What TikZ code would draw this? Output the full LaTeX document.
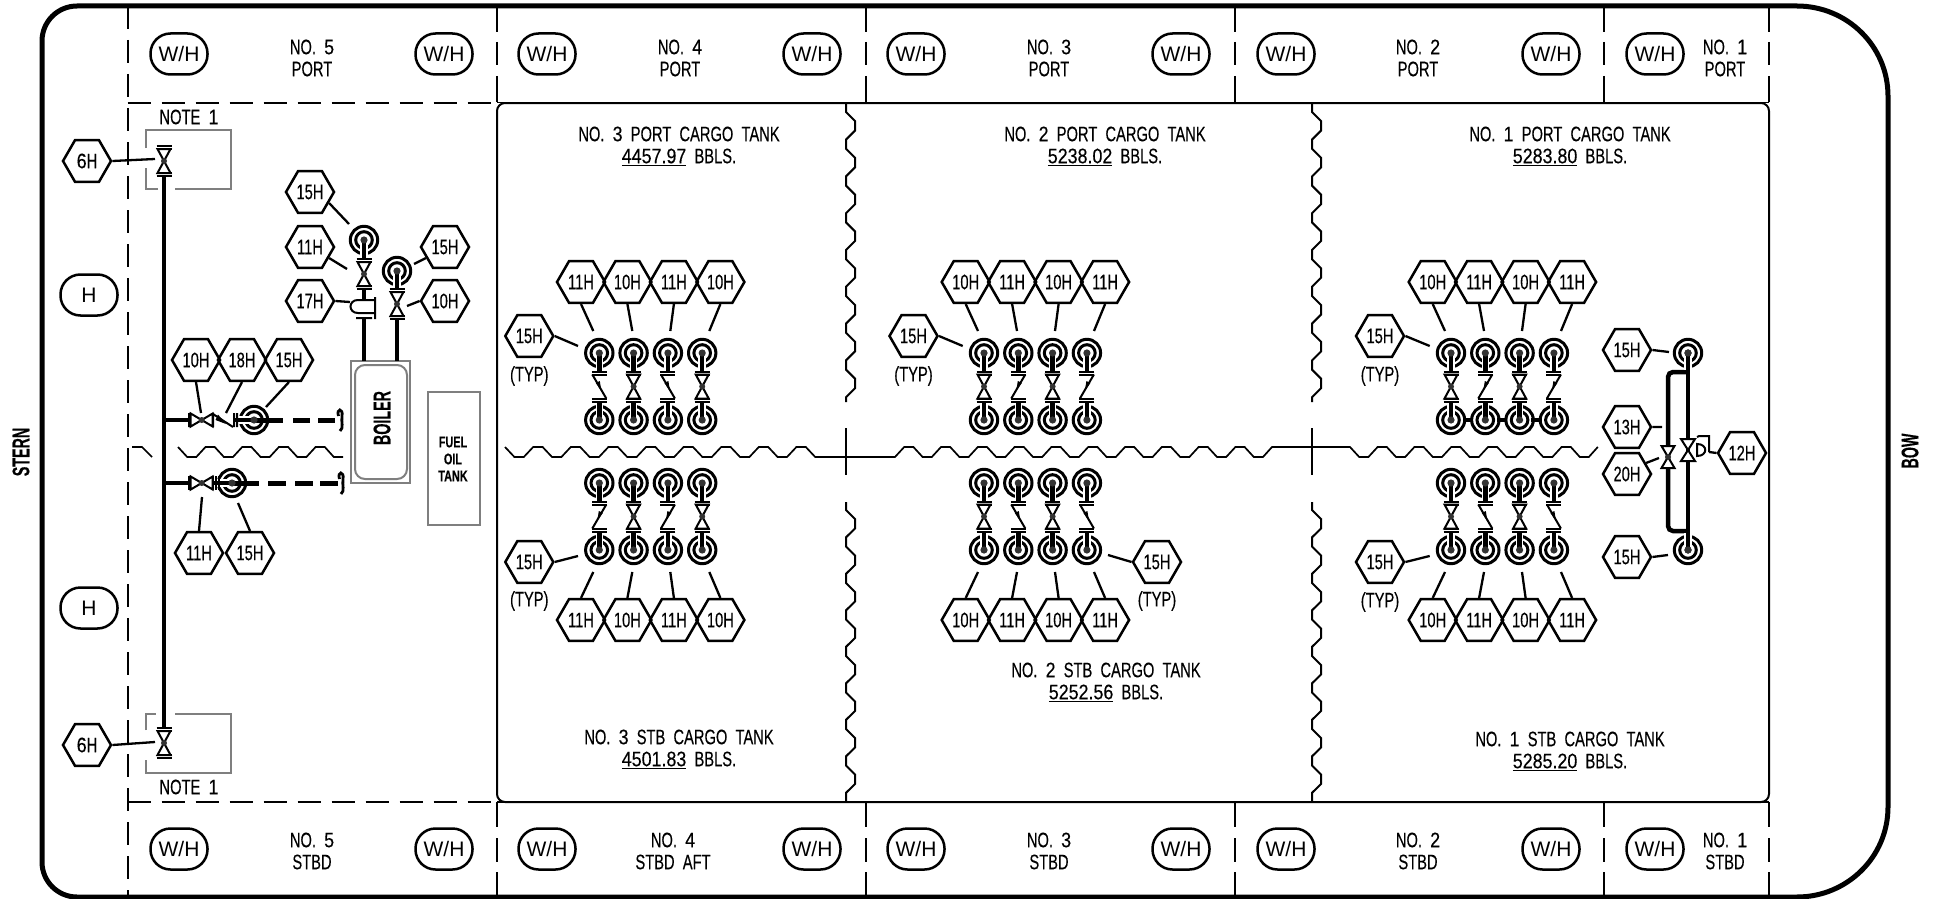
\documentclass[tikz,border=0pt]{standalone}
\usepackage{fontspec}
\usepackage{graphicx}
\usetikzlibrary{shapes.geometric}
\setmainfont{Liberation Sans}[FakeStretch=0.7,WordSpace=2,FakeBold=0.25]
\newfontfamily\widefont{Liberation Sans}[FakeStretch=1.0]
\newfontfamily\numfont{Liberation Sans}[FakeStretch=0.85,FakeBold=0.25]
\newcommand{\nf}[1]{{\numfont #1}}
\newcommand{\hd}[1]{\scalebox{0.85}[1]{\bfseries\fontsize{24}{24}\selectfont #1}}
\definecolor{boxgray}{HTML}{7F7F7F}
\definecolor{dotgray}{HTML}{333333}
\tikzset{
  txt/.style={inner sep=0pt,align=center,font=\fontsize{21}{22}\selectfont},
  hx/.style={draw,line width=2.5pt,regular polygon,regular polygon sides=6,minimum size=48pt,inner sep=0pt,font=\fontsize{21}{22}\selectfont},
  wh/.style={draw,line width=2.5pt,rounded corners=20pt,minimum width=57pt,minimum height=41pt,inner sep=0pt,font=\widefont\fontsize{21}{22}\selectfont},
  border/.style={line width=5pt},
  dsh/.style={line width=2pt},
  thinln/.style={line width=1.7pt},
  leader/.style={line width=2.3pt},
  pipe/.style={line width=4.5pt},
  grayln/.style={line width=2pt,draw=boxgray},
  ring/.style={line width=3pt},
  dotf/.style={fill=dotgray},
  sym/.style={line width=2pt},
  target/.pic={
    \draw[ring] (0,0) circle (13.7);
    \draw[ring] (0,0) circle (8.3);
    \draw[white,line width=7.5pt] (0,0)--(0,17);
    \draw[pipe] (0,0)--(0,19);
    \fill[dotf] (0,0) circle (3.6);
  },
  gateb/.pic={
    \draw[sym,fill=white] (-6.5,-11)--(6.5,-11)--(-6.5,11)--(6.5,11)--cycle;
    \fill[dotf] (0,0) circle (3);
  },
  flgate/.pic={
    \draw[sym,fill=white] (-6.5,-12)--(6.5,-12)--(-6.5,12)--(6.5,12)--cycle;
    \draw[sym] (-7.5,-15)--(7.5,-15) (-7.5,15)--(7.5,15) (-7.5,-12)--(7.5,-12) (-7.5,12)--(7.5,12);
    \fill[dotf] (0,0) circle (3);
  },
  chk/.pic={
    \draw[sym] (-7.5,-15)--(7.5,-15) (-7.5,15)--(7.5,15) (-7.5,-12)--(7.5,-12) (-7.5,12)--(7.5,12);
    \draw[sym] (-7,-12)--(7,12);
    \fill (2,4)--(-3.5,-3.5)--(0.5,-5.5)--cycle;
  }
}
\newcommand{\symG}[2]{\pic at (#1,#2) {flgate};}
\newcommand{\symD}[2]{\pic at (#1,#2) {chk};}
\newcommand{\symU}[2]{\pic[xscale=-1] at (#1,#2) {chk};}
\newcommand{\lead}[3]{\coordinate (#1-e) at (#3); \draw[leader] (#2) -- (#1-e);}
% name, x0, top labels, bottom labels, upper symbols, lower symbols
\newcommand{\cargogroup}[6]{
  \foreach \lab [count=\i] in {#3}{
    \pgfmathsetmacro\hexd{{-18.3,28.1,74.6,121.1}[\i-1]}
    \pgfmathsetmacro\td{{-6,33,71,110}[\i-1]}
    \node[hx] (#1t\i) at (#2+\hexd,282) {\lab};
    \coordinate (#1te\i) at (#2+\td,331);
    \draw[leader] (#1t\i.south) -- (#1te\i);
  }
  \foreach \lab [count=\i] in {#4}{
    \pgfmathsetmacro\hexd{{-18.3,28.1,74.6,121.1}[\i-1]}
    \pgfmathsetmacro\td{{-6,33,71,110}[\i-1]}
    \node[hx] (#1b\i) at (#2+\hexd,620) {\lab};
    \coordinate (#1be\i) at (#2+\td,572);
    \draw[leader] (#1b\i.north) -- (#1be\i);
  }
  \foreach \sy [count=\i] in {#5}{
    \pgfmathsetmacro\tx{#2+34.3*(\i-1)}
    \pic at (\tx,353) {target};
    \pic[rotate=180] at (\tx,420) {target};
    \sy{\tx}{386.5}
  }
  \foreach \sy [count=\i] in {#6}{
    \pgfmathsetmacro\tx{#2+34.3*(\i-1)}
    \pic at (\tx,483) {target};
    \pic[rotate=180] at (\tx,550) {target};
    \sy{\tx}{516.5}
  }
}
\newcommand{\typlabel}[5]{
  \node[hx] (#1) at (#2,#3) {15H};
  \node[txt] (#1typ) at (#2,#3+#4) {(TYP)};
  \coordinate (#1e) at (#5);
}
\newcommand{\vwave}[1]{
  \draw[dsh] (#1,103)--(#1,112)
    \foreach \k in {1,...,7}{ -- ++(9.2,9.2) -- ++(0,9.2) -- ++(-9.2,9.2) -- ++(0,9.2)}
    -- ++(9.2,9.2) -- ++(0,9.2) -- ++(-9.2,9.2) -- (#1,402);
  \draw[dsh] (#1,428)--(#1,475);
  \draw[dsh] (#1,502)--(#1,510)
    \foreach \k in {1,...,8}{ -- ++(9.2,9.125) -- ++(0,9.125) -- ++(-9.2,9.125) -- ++(0,9.125)};
}
\newcommand{\hook}[2]{
  \draw[line width=2.8pt] (#1-1.5,#2-4) .. controls (#1-4,#2-12) and (#1+3.5,#2-12) .. (#1+2,#2-4) .. controls (#1+1,#2+2) and (#1+4,#2+8) .. (#1,#2+11);
}
\begin{document}
\begin{tikzpicture}[x=1pt,y=-1pt]
\useasboundingbox (0,0) rectangle (1944,899);
\fill[white] (0,0) rectangle (1944,899);

% hull
\draw[border,rounded corners=35pt] (1797,6) -- (42,6) -- (42,897) -- (1797,897);
\draw[border] (1797,6) .. controls (1847,6) and (1888,46) .. (1888,96) -- (1888,807) .. controls (1888,857) and (1847,897) .. (1797,897);

% band and section lines
\draw[dsh,dash pattern=on 23pt off 11pt] (127.5,6) -- (127.5,897);
\draw[dsh,dash pattern=on 23pt off 11pt] (127.5,102.5) -- (497,102.5);
\draw[dsh,dash pattern=on 23pt off 11pt] (127.5,802) -- (497,802);
\draw[thinln] (497,102.5) -- (1769,102.5) (497,802) -- (1769,802);
\foreach \xx in {497,866,1235,1604,1769}{
  \draw[dsh,dash pattern=on 26pt off 10pt on 23pt off 11pt on 26pt] (\xx,6) -- (\xx,102);
  \draw[dsh,dash pattern=on 25pt off 11pt on 24pt off 10pt on 25pt] (\xx,802) -- (\xx,897);
}
\draw[dsh,rounded corners=8pt] (497,103) rectangle (1769,802);

% wavy divisions
\vwave{846}
\vwave{1312}
\draw[thinln] (505,447)
  \foreach \k in {1,...,8}{ -- ++(9.4,10) -- ++(9.4,0) -- ++(9.4,-10) -- ++(9.4,0)}
  -- ++(9.4,10) -- (895,457)
  \foreach \k in {1,...,10}{ -- ++(9.2,-10) -- ++(9.2,0) -- ++(9.2,10) -- ++(9.2,0)}
  -- ++(9,-10) -- (1350,447)
  \foreach \k in {1,...,6}{ -- ++(9.2,10) -- ++(9.2,0) -- ++(9.2,-10) -- ++(9.2,0)}
  -- ++(9,10) -- ++(9,0) -- ++(9,-10);
\draw[thinln] (132,447) -- (142,447) -- (152,457);
\draw[thinln] (178,447)
  \foreach \k in {1,...,4}{ -- ++(9.2,10) -- ++(9.1,0) -- ++(9.2,-10) -- ++(9.2,0)}
  -- ++(9,10) -- (343,457);

% band labels
\foreach \xx [count=\i] in {179,444,547,812,916,1181,1286,1551,1655}{
  \node[wh] (wht\i) at (\xx,54) {W/H};
  \node[wh] (whb\i) at (\xx,849) {W/H};
}
\node[txt] (pt5) at (312,58) {NO. \nf{5}\\PORT};
\node[txt] (pt4) at (680,58) {NO. \nf{4}\\PORT};
\node[txt] (pt3) at (1049,58) {NO. \nf{3}\\PORT};
\node[txt] (pt2) at (1418,58) {NO. \nf{2}\\PORT};
\node[txt] (pt1) at (1725,58) {NO. \nf{1}\\PORT};
\node[txt] (sb5) at (312,851) {NO. \nf{5}\\STBD};
\node[txt] (sb4) at (673,851) {NO. \nf{4}\\STBD AFT};
\node[txt] (sb3) at (1049,851) {NO. \nf{3}\\STBD};
\node[txt] (sb2) at (1418,851) {NO. \nf{2}\\STBD};
\node[txt] (sb1) at (1725,851) {NO. \nf{1}\\STBD};

% tank labels
\node[txt] (tp3) at (679,146) {NO. \nf{3} PORT CARGO TANK\\\underline{\nf{4457.97}} BBLS.};
\node[txt] (tp2) at (1105,146) {NO. \nf{2} PORT CARGO TANK\\\underline{\nf{5238.02}} BBLS.};
\node[txt] (tp1) at (1570,146) {NO. \nf{1} PORT CARGO TANK\\\underline{\nf{5283.80}} BBLS.};
\node[txt] (ts3) at (679,749) {NO. \nf{3} STB CARGO TANK\\\underline{\nf{4501.83}} BBLS.};
\node[txt] (ts2) at (1106,682) {NO. \nf{2} STB CARGO TANK\\\underline{\nf{5252.56}} BBLS.};
\node[txt] (ts1) at (1570,751) {NO. \nf{1} STB CARGO TANK\\\underline{\nf{5285.20}} BBLS.};

\node[txt,rotate=90] (stern) at (21,452) {\hd{STERN}};
\node[txt,rotate=90] (bow) at (1910,451) {\hd{BOW}};

% note boxes
\draw[grayln] (146,148) -- (146,130) -- (231,130) -- (231,189) -- (175,189) (158,189) -- (146,189) -- (146,168);
\draw[grayln] (146,730) -- (146,714) -- (156,714) (175,714) -- (231,714) -- (231,773) -- (146,773) -- (146,760);
\node[txt] (n1) at (189,117) {NOTE \nf{1}};
\node[txt] (n2) at (189,787) {NOTE \nf{1}};

% H ovals
\node[wh] (ho1) at (89,295) {H};
\node[wh] (ho2) at (89,608) {H};

% boiler and tank
\node[grayln,draw,minimum width=59pt,minimum height=122pt,inner sep=0pt] (boilerO) at (380.5,422) {};
\node[grayln,draw,rounded corners=10pt,minimum width=52pt,minimum height=114pt,inner sep=0pt] (boilerI) at (381,422) {};
\node[txt,rotate=90] (boilerT) at (382,418) {\hd{BOILER}};
\node[grayln,draw,minimum width=52pt,minimum height=133pt,inner sep=0pt] (fot) at (454,458) {};
\node[txt,font=\bfseries\fontsize{15.5}{17}\selectfont] (fotT) at (453,459) {FUEL\\OIL\\TANK};

% stern main pipe
\draw[pipe] (164,175) -- (164,728);
\pic at (164,161) {flgate};
\pic at (164,743) {flgate};
\node[hx] (h6a) at (87,161) {\nf{6}H};
\node[hx] (h6b) at (87,745) {\nf{6}H};
\lead{l6a}{h6a.east}{155,159}
\lead{l6b}{h6b.east}{155,742}

% branch row 1
\draw[pipe] (164,420) -- (188,420);
\draw[line width=5pt,dash pattern=on 29pt off 10pt on 17pt off 8pt on 17pt] (254,420) -- (336,420);
\pic[rotate=-90] at (254,420) {target};
\pic[rotate=90] at (201.7,420) {gateb};
\draw[sym] (189,413) -- (189,427) (213,413) -- (213,427) (234,413) -- (234,427) (237,413) -- (237,427) (213,414) -- (233,427);
\fill (226,424) -- (218,414.5) -- (215.5,420) -- cycle;
\hook{340}{420}
\node[hx] (h10a) at (196,360) {10H};
\node[hx] (h18a) at (242,360) {18H};
\node[hx] (h15a) at (289,360) {15H};
\lead{l10a}{h10a.south}{201,413}
\lead{l18a}{h18a.south}{226,413}
\lead{l15a}{h15a.south}{266,407}

% branch row 2
\draw[pipe] (164,483) -- (188,483);
\draw[line width=5pt,dash pattern=on 27pt off 9pt on 18pt off 9pt on 18pt off 7pt on 18pt] (232,483) -- (338,483);
\pic[rotate=-90] at (232,483) {target};
\pic[rotate=90] at (201.7,483) {gateb};
\draw[sym] (189,476) -- (189,490) (213,476) -- (213,490) (216,476) -- (216,490) (219,476) -- (219,490);
\hook{341}{483}
\node[hx] (h11b) at (199,553) {11H};
\node[hx] (h15b) at (250,553) {15H};
\lead{l11b}{h11b.north}{202,497}
\lead{l15b}{h15b.north}{238,503}

% boiler risers
\draw[pipe] (364,318) -- (364,361);
\draw[pipe] (397,318) -- (397,361);
\draw[pipe] (364,288) -- (364,300);
\pic at (364,240) {target};
\pic at (397,271) {target};
\pic at (364,274) {flgate};
\pic at (397,304) {flgate};
\draw[sym] (375,297) -- (375,319) (356,318) -- (372,318) (375,300) -- (358,300) .. controls (348,300) and (348,313) .. (358,313) -- (375,313);
\node[hx] (h15c) at (310,192) {15H};
\node[hx] (h11c) at (310,247) {11H};
\node[hx] (h17c) at (310,301) {17H};
\node[hx] (h15d) at (445,247) {15H};
\node[hx] (h10d) at (445,301) {10H};
\lead{l15c}{h15c.-30}{349,224}
\lead{l11c}{h11c.-30}{347,269}
\lead{l17c}{h17c.east}{350,302}
\lead{l15d}{h15d.210}{414,264}
\lead{l10d}{h10d.west}{407,306}

% cargo groups
\cargogroup{ga}{599.3}{11H,10H,11H,10H}{11H,10H,11H,10H}{\symD,\symG,\symD,\symG}{\symU,\symG,\symU,\symG}
\cargogroup{gb}{984}{10H,11H,10H,11H}{10H,11H,10H,11H}{\symG,\symU,\symG,\symU}{\symG,\symD,\symG,\symD}
\draw[pipe] (1463,420) -- (1473,420) (1497,420) -- (1507,420) (1531,420) -- (1542,420);
\cargogroup{gc}{1451}{10H,11H,10H,11H}{10H,11H,10H,11H}{\symG,\symU,\symG,\symU}{\symG,\symD,\symG,\symD}

\typlabel{ta1}{529.3}{336}{40}{578,346}
\draw[leader] (ta1.east) -- (ta1e);
\typlabel{ta2}{529.3}{562}{39}{578,556}
\draw[leader] (ta2.east) -- (ta2e);
\typlabel{tb1}{913.5}{336}{40}{962.7,346}
\draw[leader] (tb1.east) -- (tb1e);
\typlabel{tb2}{1157}{562}{39}{1108,555}
\draw[leader] (tb2.west) -- (tb2e);
\typlabel{tc1}{1380}{336}{40}{1429.7,346}
\draw[leader] (tc1.east) -- (tc1e);
\typlabel{tc2}{1380}{562}{40}{1429.7,556}
\draw[leader] (tc2.east) -- (tc2e);

% bow manifold
\draw[pipe,rounded corners=5pt] (1688,372) -- (1668,372) -- (1668,531) -- (1688,531);
\pic at (1688,353) {target};
\pic[rotate=180] at (1688,550) {target};
\draw[pipe] (1688,353) -- (1688,550);
\fill[dotf] (1688,353) circle (3.6) (1688,550) circle (3.6);
\draw[sym,fill=white] (1681,439) -- (1695,439) -- (1681,461) -- (1695,461) -- cycle;
\pic at (1668,457) {gateb};
\draw[sym] (1697,437) -- (1699,436) -- (1709,436) -- (1709,452) (1697,444) .. controls (1708,444) and (1708,456) .. (1697,456) -- cycle;
\node[hx] (h15e) at (1627,350) {15H};
\node[hx] (h13e) at (1627,427) {13H};
\node[hx] (h20e) at (1627,474) {20H};
\node[hx] (h15f) at (1627,557) {15H};
\node[hx] (h12e) at (1742,453) {12H};
\lead{l15e}{h15e.east}{1669,352}
\lead{l13e}{h13e.east}{1662,427}
\lead{l20e}{h20e.30}{1659,458}
\lead{l15f}{h15f.east}{1668,555}
\lead{l12e}{h12e.west}{1709,452}
\end{tikzpicture}
\end{document}
